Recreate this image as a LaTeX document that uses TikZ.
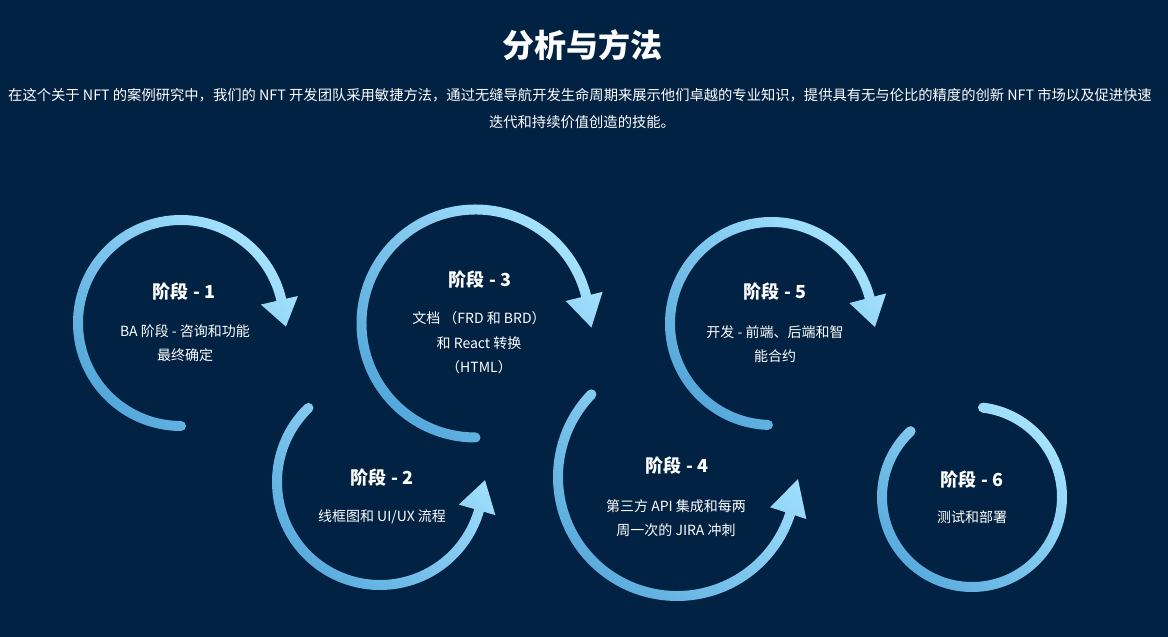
\documentclass[tikz,border=0pt]{standalone}
\usepackage{fontspec}
\setmainfont{Noto Sans CJK SC}
\usetikzlibrary{calc}
\definecolor{bgnavy}{HTML}{012242}
\definecolor{ringdark}{HTML}{55A8DB}
\definecolor{ringlight}{HTML}{A6E3FF}
\tikzset{
  ringshade/.style={left color=ringlight, right color=ringdark, shading angle=-45},
  stagehead/.style={text=white, font=\bfseries\fontsize{18}{20}\selectfont},
  stagetext/.style={text=white, align=center, font=\fontsize{14}{24.5}\selectfont},
}
% ring of width 10: round cap at the start, arrow head at the end
\def\stagearc(#1)(#2:#3:#4:#5){%
  \pgfmathsetmacro\capturn{#3>#2 ? 180 : -180}%
  \shade[ringshade] ($(#1)+(#2:{#4+5})$) arc[start angle=#2, end angle=#3, radius={#4+5}]
    -- ($(#1)+(#3:{#4+17})$) -- ($(#1)+(#5:{#4+2})$) -- ($(#1)+(#3:{#4-21})$)
    -- ($(#1)+(#3:{#4-5})$) arc[start angle=#3, end angle=#2, radius={#4-5}]
    arc[start angle=#2+180, delta angle=\capturn, radius=5] -- cycle;}
% ring with round caps on both ends
\def\stagering(#1)(#2:#3:#4){%
  \shade[ringshade] ($(#1)+(#2:{#4+5})$) arc[start angle=#2, end angle=#3, radius={#4+5}]
    arc[start angle=#3, delta angle=180, radius=5]
    arc[start angle=#3, end angle=#2, radius={#4-5}]
    arc[start angle=#2+180, delta angle=180, radius=5] -- cycle;}

\begin{document}
\begin{tikzpicture}[x=1pt, y=1pt]
		%%%%% START %%%%%
		
		\useasboundingbox (0,0) rectangle (1168,637);
		\fill[bgnavy] (0,0) rectangle (1168,637);
		
		\node[text=white, font=\bfseries\fontsize{32}{36}\selectfont] (title) at (582,592) {分析与方法};
		\node[text=white, font=\fontsize{14.3}{18}\selectfont] (intro1) at (580,542) {在这个关于 NFT 的案例研究中，我们的 NFT 开发团队采用敏捷方法，通过无缝导航开发生命周期来展示他们卓越的专业知识，提供具有无与伦比的精度的创新 NFT 市场以及促进快速};
		\node[text=white, font=\fontsize{14.3}{18}\selectfont] (intro2) at (582,515) {迭代和持续价值创造的技能。};
		
		\stagearc(181,314)(270:13:103:-2)
		\stagearc(380,155)(134:344:103:361)
		\stagearc(475.5,313.5)(270:14:114:-2)
		\stagearc(677,160)(136:342:119:359)
		\stagearc(771.5,313.5)(268:14.7:101.5:-2)
		\stagering(972,140)(133:443:90)
		
		\node[stagehead] (head1) at (184,345) {阶段 - 1};
		\node[stagetext] (text1) at (185,294) {BA 阶段 - 咨询和功能\\最终确定};
		
		\node[stagehead] (head2) at (382,159) {阶段 - 2};
		\node[stagetext] (text2) at (382,120) {线框图和 UI/UX 流程};
		
		\node[stagehead] (head3) at (480,357) {阶段 - 3};
		\node[stagetext] (text3) at (479,294) {文档 （FRD 和 BRD）\\和 React 转换\\（HTML）};
		
		\node[stagehead] (head4) at (677,171) {阶段 - 4};
		\node[stagetext] (text4) at (676,119) {第三方 API 集成和每两\\周一次的 JIRA 冲刺};
		
		\node[stagehead] (head5) at (775,345) {阶段 - 5};
		\node[stagetext] (text5) at (775,293) {开发 - 前端、后端和智\\能合约};
		
		\node[stagehead] (head6) at (972,157) {阶段 - 6};
		\node[stagetext] (text6) at (972,120) {测试和部署};
		
		%%%%% END %%%%%
\end{tikzpicture}
\end{document}
